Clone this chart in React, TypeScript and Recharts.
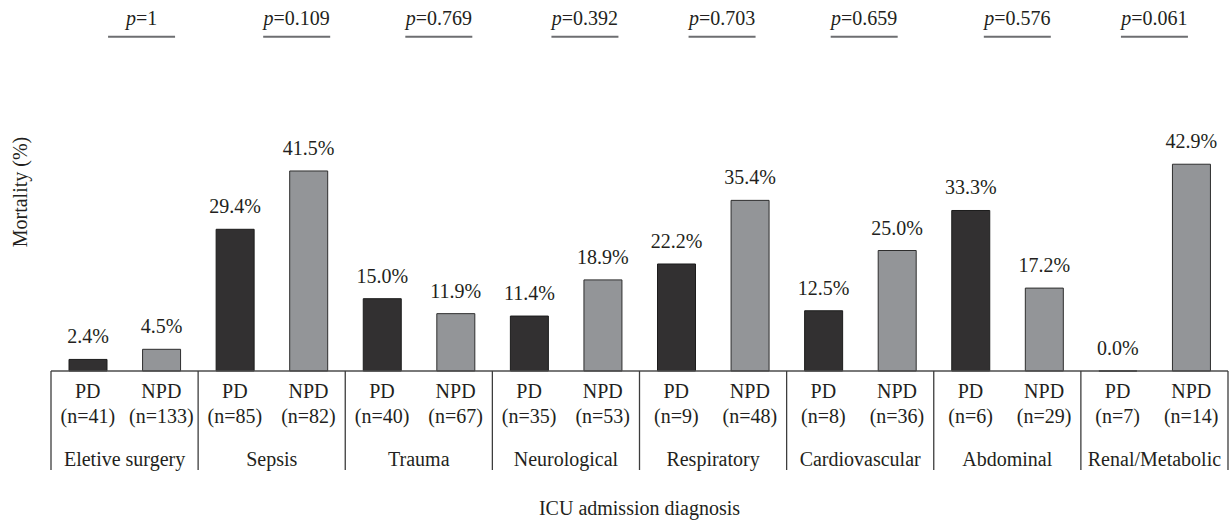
import { BarChart, Bar, XAxis, YAxis, LabelList } from "recharts";

// ICU admission diagnosis groups
const categories = [
  "Eletive surgery",
  "Sepsis",
  "Trauma",
  "Neurological",
  "Respiratory",
  "Cardiovascular",
  "Abdominal",
  "Renal/Metabolic",
];
const pdMortality = [2.4, 29.4, 15.0, 11.4, 22.2, 12.5, 33.3, 0.0];
const npdMortality = [4.5, 41.5, 11.9, 18.9, 35.4, 25.0, 17.2, 42.9];
const pdN = [41, 85, 40, 35, 9, 8, 6, 7];
const npdN = [133, 82, 67, 53, 48, 36, 29, 14];
const pValues = ["1", "0.109", "0.769", "0.392", "0.703", "0.659", "0.576", "0.061"];

// p-value labels sit a bit right of the group centres in the original
const P_SHIFT = [17, 25, 20, 19, 9, 4, 10, 0];

const W = 1230;
const H = 522;
const Y_W = 51;
const MARGIN = { top: 130, right: 2, bottom: 41, left: 0 };
const BAND = (W - Y_W - MARGIN.right) / categories.length;
const FONT = '"Liberation Serif", "DejaVu Serif", serif';
const INK = "#231f20";

const data = categories.map((name, i) => ({
  name,
  pd: pdMortality[i],
  npd: npdMortality[i],
}));

const pct = (v: any) => `${Number(v).toFixed(1)}%`;

function GroupTick(props: any) {
  const { x, y, payload } = props;
  const i = props.index ?? payload.index;
  const left = x - BAND / 2;
  const right = x + BAND / 2;
  const last = i === categories.length - 1;
  return (
    <g fontFamily={FONT} fontSize={20} fill={INK}>
      <line x1={left} x2={left} y1={y} y2={y + 99} stroke="#3d3d3d" strokeWidth={1.3} />
      {last && <line x1={right} x2={right} y1={y} y2={y + 99} stroke="#3d3d3d" strokeWidth={1.3} />}
      <text x={x - BAND / 4} y={y + 27} textAnchor="middle">PD</text>
      <text x={x + BAND / 4} y={y + 27} textAnchor="middle">NPD</text>
      <text x={x - BAND / 4} y={y + 52} textAnchor="middle">(n={pdN[i]})</text>
      <text x={x + BAND / 4} y={y + 52} textAnchor="middle">(n={npdN[i]})</text>
      <text x={x} y={y + 95} textAnchor="middle">{payload.value}</text>
      {/* p-value header above each group */}
      <text x={x + P_SHIFT[i]} y={y - 346} textAnchor="middle">
        <tspan fontStyle="italic">p</tspan>={pValues[i]}
      </text>
      <line
        x1={x + P_SHIFT[i] - 33.5}
        x2={x + P_SHIFT[i] + 33.5}
        y1={y - 334.3}
        y2={y - 334.3}
        stroke="#6d6e71"
        strokeWidth={2}
      />
    </g>
  );
}

function YTitle(props: any) {
  const vb = props.viewBox;
  const x = vb.x + 27;
  const y = vb.y + 62;
  return (
    <text x={x} y={y} transform={`rotate(-90, ${x}, ${y})`} textAnchor="middle" fontFamily={FONT} fontSize={20} fill={INK}>
      Mortality (%)
    </text>
  );
}

function XTitle(props: any) {
  const vb = props.viewBox;
  return (
    <text x={vb.x + vb.width / 2} y={vb.y + 144} textAnchor="middle" fontFamily={FONT} fontSize={20} fill={INK}>
      ICU admission diagnosis
    </text>
  );
}

export default function App() {
  return (
    <div style={{ position: "absolute", left: 0, top: 0, width: W, height: H, background: "#fff" }}>
      <BarChart width={W} height={H} data={data} margin={MARGIN} barGap={BAND / 2 - 38}>
        <XAxis
          dataKey="name"
          height={110}
          interval={0}
          tickLine={false}
          tickSize={0}
          tickMargin={0}
          axisLine={{ stroke: "#4d4d4d", strokeWidth: 1.3 }}
          tick={<GroupTick />}
          label={<XTitle />}
        />
        <YAxis
          domain={[0, 50]}
          width={Y_W}
          tick={false}
          tickLine={false}
          axisLine={false}
          label={<YTitle />}
        />
        <Bar dataKey="pd" fill="#323031" stroke="#1c1c1c" strokeWidth={1} barSize={38} minPointSize={0.01} isAnimationActive={false}>
          <LabelList dataKey="pd" position="top" offset={16} formatter={pct} style={{ fontFamily: FONT, fontSize: 20, fill: INK }} />
        </Bar>
        <Bar dataKey="npd" fill="#939598" stroke="#2e2e2e" strokeWidth={1} barSize={38} isAnimationActive={false}>
          <LabelList dataKey="npd" position="top" offset={16} formatter={pct} style={{ fontFamily: FONT, fontSize: 20, fill: INK }} />
        </Bar>
      </BarChart>
    </div>
  );
}
